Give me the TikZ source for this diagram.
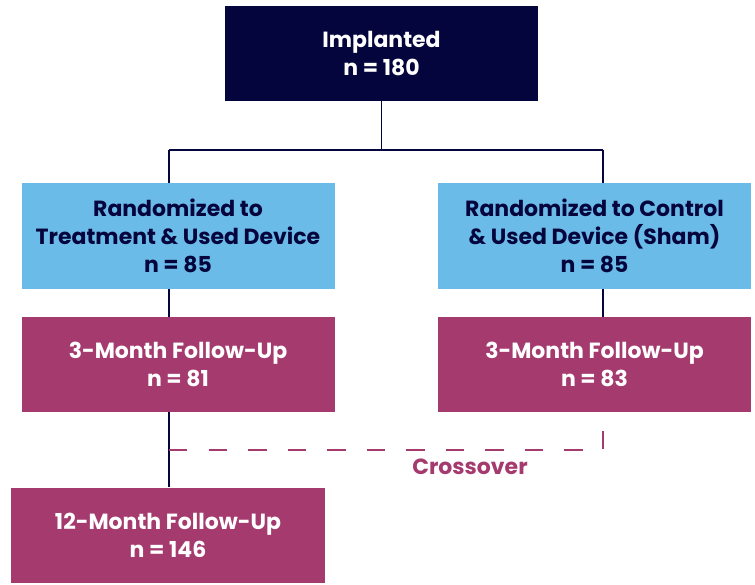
\documentclass[tikz,border=0pt]{standalone}
\usepackage{fontspec}
\setmainfont{Poppins}
\usepackage{xcolor}
\usetikzlibrary{positioning}
\definecolor{navy}{HTML}{05053D}
\definecolor{skyblue}{HTML}{6BBBE8}
\definecolor{plum}{HTML}{A53A6E}

\begin{document}
\begin{tikzpicture}[
    box/.style={rectangle,inner sep=0pt,minimum width=6.26cm,minimum height=1.9cm,
        align=center,font=\fontsize{12.5}{16}\selectfont\bfseries},
    navybox/.style={box,fill=navy,text=white},
    bluebox/.style={box,fill=skyblue,text=navy,minimum height=2.12cm},
    plumbox/.style={box,fill=plum,text=white},
    link/.style={navy,line width=1.1pt},
    crossline/.style={plum,line width=1.1pt,dash pattern=on 10.5pt off 12pt}
    ]
    \useasboundingbox (0,0) rectangle (15.1,-11.68);
            % Boxes
            \node[navybox] (impl) at (7.63,-1.07) {Implanted\\n = 180};
            \node[bluebox] (treat) at (3.56,-4.72) {Randomized to\\Treatment \& Used Device\\n = 85};
            \node[bluebox] (sham) at (11.89,-4.72) {Randomized to Control\\\& Used Device (Sham)\\n = 85};
            \node[plumbox] (fuleft) at (3.56,-7.29) {3-Month Follow-Up\\n = 81};
            \node[plumbox] (furight) at (11.89,-7.29) {3-Month Follow-Up\\n = 83};
            \node[plumbox,minimum width=6.28cm] (futwelve) at (3.36,-10.70) {12-Month Follow-Up\\n = 146};
            % Split
            \coordinate (jl) at (3.38,-3.0);
            \coordinate (jr) at (12.06,-3.0);
            \coordinate (cross) at (3.38,-9.0);
            \draw[link] (impl.south) -- (impl.south |- jl);
            \draw[link] (jl) -- (jr);
            \draw[link] (jl) -- (jl |- treat.north);
            \draw[link] (jr) -- (jr |- sham.north);
            \draw[link] (jl |- treat.south) -- (jl |- fuleft.north);
            \draw[link] (jr |- sham.south) -- (jr |- furight.north);
            \draw[link] (jl |- fuleft.south) -- (jl |- futwelve.north);
            % Crossover
            \draw[crossline] (cross) -- (cross -| jr) -- (jr |- furight.south);
            \node[text=plum,font=\fontsize{12.5}{16}\selectfont\bfseries] (crosslabel) at (9.4,-9.34) {Crossover};
\end{tikzpicture}
\end{document}
